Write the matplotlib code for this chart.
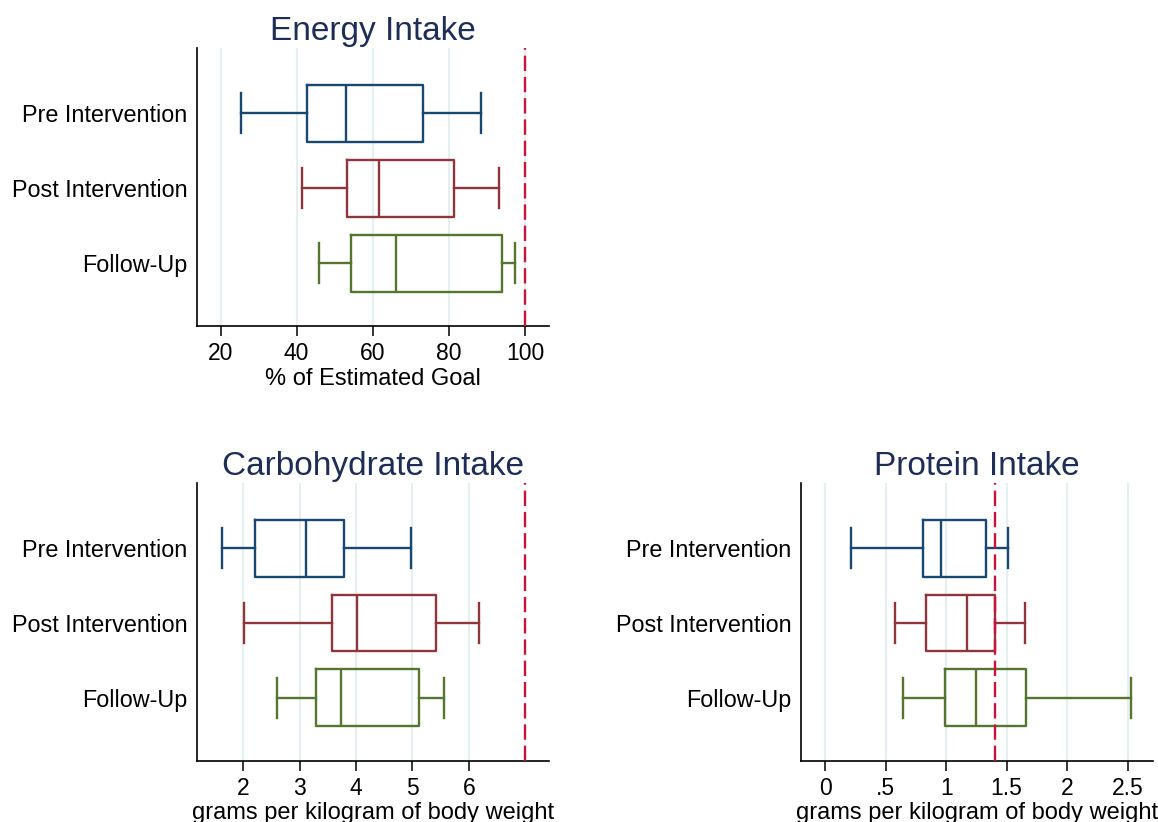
import matplotlib
matplotlib.use("Agg")
import matplotlib.pyplot as plt

plt.rcParams['font.family'] = ['Liberation Sans', 'DejaVu Sans']

groups = ["Pre Intervention", "Post Intervention", "Follow-Up"]
colors = ["#1a476f", "#90353b", "#55752f"]

# whisker low, q1, median, q3, whisker high per group
energy_low = [25.3, 41.5, 45.9]
energy_q1 = [42.8, 53.1, 54.2]
energy_med = [53.0, 61.5, 66.1]
energy_q3 = [73.2, 81.4, 94.0]
energy_high = [88.3, 93.1, 97.4]
energy_goal = 100
energy_ticks = [20, 40, 60, 80, 100]
energy_ticklabels = ["20", "40", "60", "80", "100"]

carb_low = [1.62, 2.01, 2.59]
carb_q1 = [2.20, 3.58, 3.29]
carb_med = [3.11, 4.01, 3.73]
carb_q3 = [3.79, 5.41, 5.11]
carb_high = [4.98, 6.18, 5.56]
carb_goal = 7.0
carb_ticks = [2, 3, 4, 5, 6]
carb_ticklabels = ["2", "3", "4", "5", "6"]

prot_low = [0.216, 0.575, 0.645]
prot_q1 = [0.808, 0.836, 0.99]
prot_med = [0.96, 1.176, 1.25]
prot_q3 = [1.33, 1.40, 1.66]
prot_high = [1.51, 1.65, 2.53]
prot_goal = 1.4
prot_ticks = [0, 0.5, 1, 1.5, 2, 2.5]
prot_ticklabels = ["0", ".5", "1", "1.5", "2", "2.5"]

title_color = "#1e2d55"
goal_color = "#c8143c"
grid_color = "#e6eff0"


def draw_panel(ax, title, xlabel, low, q1, med, q3, high, goal,
               ticks, ticklabels, xlim):
    stats = []
    for i in range(len(groups)):
        stats.append({"whislo": low[i], "q1": q1[i], "med": med[i],
                      "q3": q3[i], "whishi": high[i], "fliers": []})
    for t in ticks:
        ax.axvline(t, color=grid_color, lw=1.5, zorder=0)
    for i, s in enumerate(stats):
        c = colors[i]
        ax.bxp([s], positions=[i + 1], widths=0.76, capwidths=0.53,
               orientation="horizontal", showfliers=False,
               boxprops=dict(color=c, lw=1.7),
               whiskerprops=dict(color=c, lw=1.7),
               capprops=dict(color=c, lw=1.7),
               medianprops=dict(color=c, lw=1.7),
               manage_ticks=False)
    ax.axvline(goal, color=goal_color, lw=1.7, ls=(0, (6.5, 2.5)), zorder=3)
    ax.set_ylim(3.84, 0.13)
    ax.set_xlim(*xlim)
    ax.set_yticks([1, 2, 3])
    ax.set_yticklabels(groups, fontsize=16.8)
    ax.tick_params(axis="y", length=0, pad=7)
    ax.set_xticks(ticks)
    ax.set_xticklabels(ticklabels, fontsize=16.5)
    ax.tick_params(axis="x", length=7.5, width=1.1, pad=4)
    ax.set_xlabel(xlabel, fontsize=17, labelpad=2)
    ax.set_title(title, fontsize=24, color=title_color, pad=5.5)
    for side in ["top", "right"]:
        ax.spines[side].set_visible(False)
    for side in ["left", "bottom"]:
        ax.spines[side].set_linewidth(1.2)


fig = plt.figure(figsize=(11.58, 8.22), dpi=100)
ax1 = fig.add_axes([0.1701, 0.6034, 0.304, 0.3382])
ax2 = fig.add_axes([0.1701, 0.0746, 0.304, 0.3378])
ax3 = fig.add_axes([0.6917, 0.0746, 0.304, 0.3378])

draw_panel(ax1, "Energy Intake", "% of Estimated Goal",
           energy_low, energy_q1, energy_med, energy_q3, energy_high,
           energy_goal, energy_ticks, energy_ticklabels, (13.8, 106.3))
draw_panel(ax2, "Carbohydrate Intake", "grams per kilogram of body weight",
           carb_low, carb_q1, carb_med, carb_q3, carb_high,
           carb_goal, carb_ticks, carb_ticklabels, (1.18, 7.42))
draw_panel(ax3, "Protein Intake", "grams per kilogram of body weight",
           prot_low, prot_q1, prot_med, prot_q3, prot_high,
           prot_goal, prot_ticks, prot_ticklabels, (-0.2, 2.71))

fig.savefig("out.png", dpi=100)
